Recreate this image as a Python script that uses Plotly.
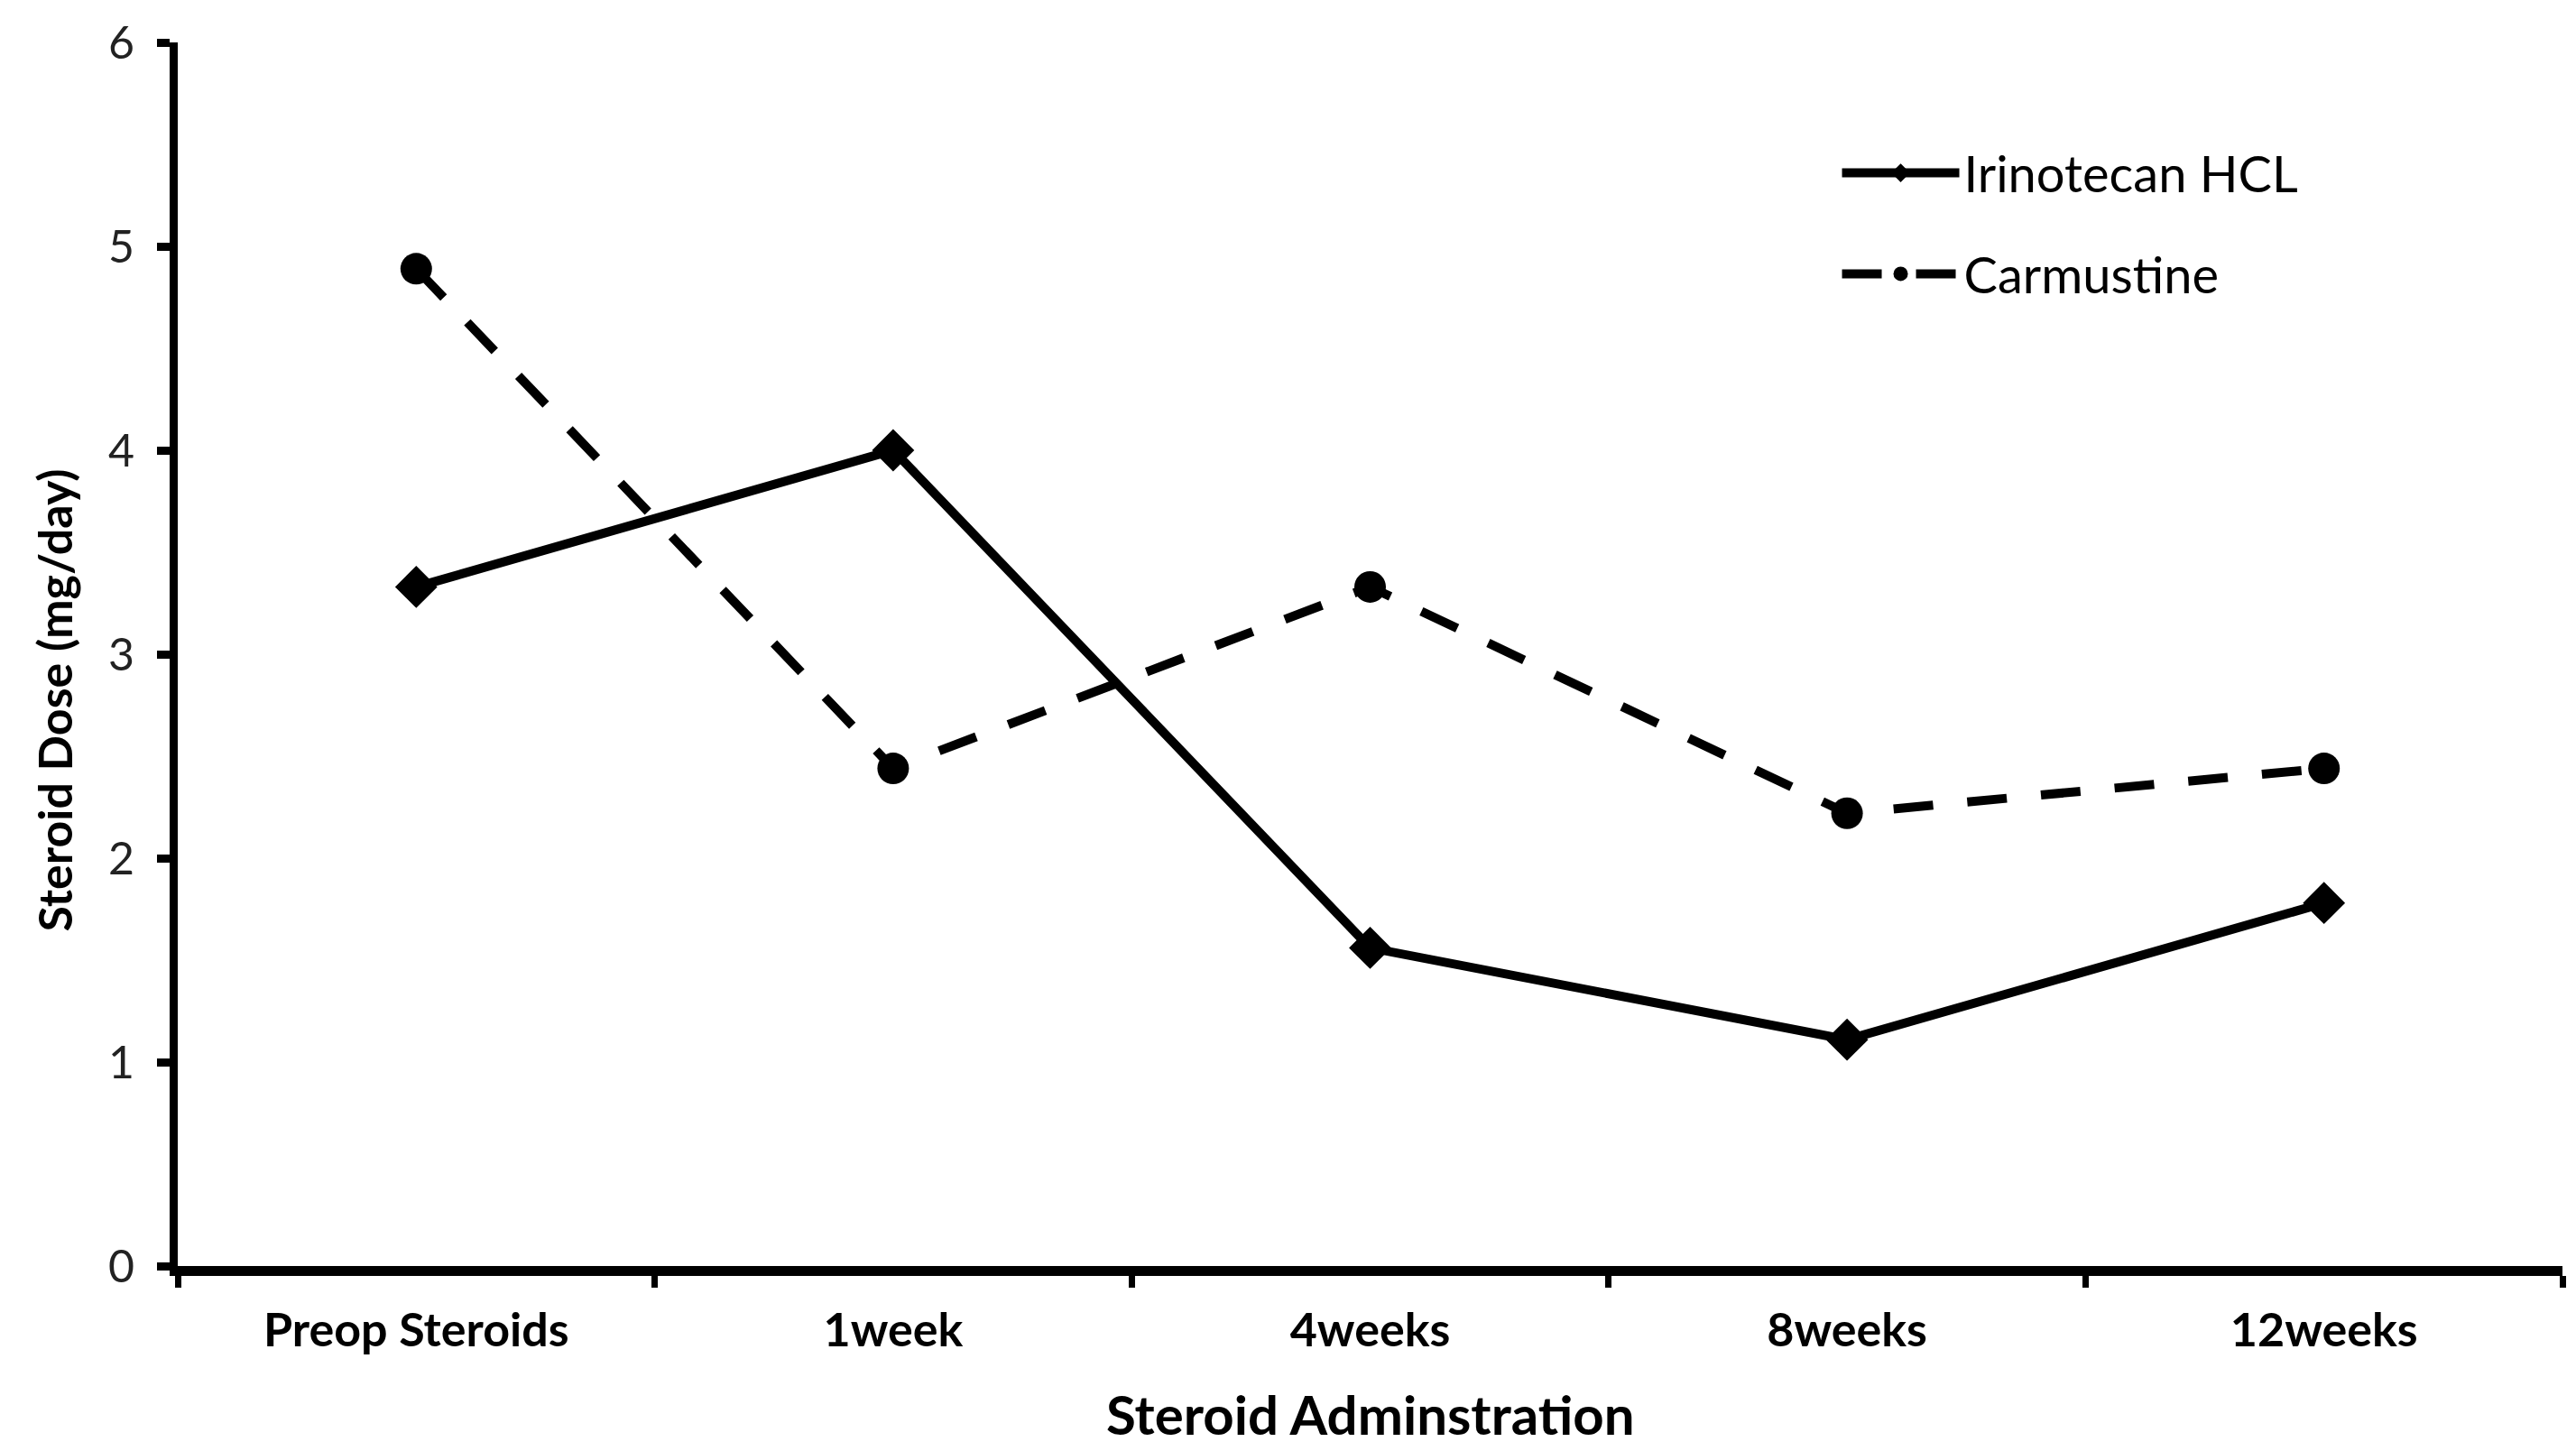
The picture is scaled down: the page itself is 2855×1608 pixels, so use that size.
import plotly.graph_objects as go

categories = ["Preop Steroids", "1week", "4weeks", "8weeks", "12weeks"]
irinotecan = [3.33, 4.0, 1.56, 1.11, 1.78]
carmustine = [4.89, 2.44, 3.33, 2.22, 2.44]
y_ticks = [0, 1, 2, 3, 4, 5, 6]

FONT = "Lato"
# page body has an 8px margin, so the figure is sized/offset to compensate
W, H = 2847, 1600
L, R, T, B = 189, 15, 39, 205
PW, PH = W - L - R, H - T - B

fig = go.Figure()
fig.add_trace(go.Scatter(
    x=categories, y=irinotecan, name="Irinotecan HCL", mode="lines+markers",
    line=dict(color="black", width=10),
    marker=dict(symbol="diamond", size=36, color="black"),
    legendgroup="a"))
fig.add_trace(go.Scatter(
    x=categories, y=carmustine, name="Carmustine", mode="lines+markers",
    line=dict(color="black", width=10, dash="44px,38px"),
    marker=dict(symbol="circle", size=35, color="black"),
    legendgroup="b"))

fig.update_layout(
    width=W, height=H,
    margin=dict(l=L, r=R, t=T, b=B, autoexpand=False),
    plot_bgcolor="white", paper_bgcolor="white",
    showlegend=True,
    legend=dict(x=0.696, y=0.925, xanchor="left", yanchor="top",
                font=dict(family=FONT, size=56, color="black"),
                tracegroupgap=36, itemwidth=130, bgcolor="rgba(0,0,0,0)",
                traceorder="grouped"),
    annotations=[
        dict(text="<b>Steroid Dose (mg/day)</b>", xref="paper", yref="paper",
             x=(60 - (L + 8)) / PW, y=0.462, textangle=-90,
             xanchor="center", yanchor="middle", showarrow=False,
             font=dict(family=FONT, size=52, color="black")),
        dict(text="<b>Steroid Adminstration</b>", xref="paper", yref="paper",
             x=0.5, y=-(1567 - 1403) / PH, xanchor="center", yanchor="middle",
             showarrow=False, font=dict(family=FONT, size=60, color="black")),
    ],
)

fig.update_xaxes(
    type="category", categoryorder="array", categoryarray=categories,
    range=[-0.5, 4.5], tickson="boundaries", ticks="outside", ticklen=13,
    tickwidth=7, tickcolor="black", showline=True, linewidth=11, linecolor="black",
    showgrid=False, zeroline=False, ticklabelstandoff=16,
    tickfont=dict(family=FONT, size=52, color="black", weight="bold"))

fig.update_yaxes(
    range=[0, 6], tickvals=y_ticks, ticks="outside", ticklen=14, tickwidth=9,
    tickcolor="black", showline=True, linewidth=9, linecolor="black",
    showgrid=False, zeroline=False, ticklabelstandoff=15,
    tickfont=dict(family=FONT, size=50, color="#222222"))

fig.write_html("out.html")
